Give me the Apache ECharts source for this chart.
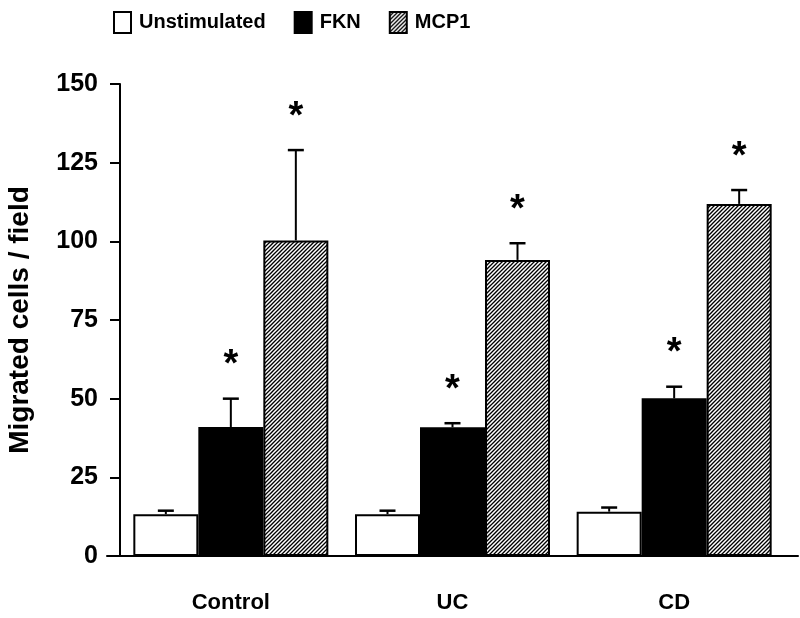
<!DOCTYPE html>
<html>
<head>
<meta charset="utf-8">
<script src="https://cdn.jsdelivr.net/npm/echarts@6/dist/echarts.min.js"></script>
<style>
  html, body { margin: 0; padding: 0; background: #fff; }
  #chart { width: 800px; height: 618px; }
</style>
</head>
<body>
<div id="chart"></div>
<script>
// data
const categories = ["Control", "UC", "CD"];
const seriesNames = ["Unstimulated", "FKN", "MCP1"];
const unstimulated = [13.3, 13.3, 14.1];
const fkn = [41.0, 40.9, 50.1];
const mcp1 = [100.3, 94.1, 111.9];
const unstimulatedErr = [14.4, 14.4, 15.4];   // top of error bar
const fknErr = [50.0, 42.2, 53.8];
const mcp1Err = [129.0, 99.4, 116.3];
const unstimulatedSig = [false, false, false];
const fknSig = [true, true, true];
const mcp1Sig = [true, true, true];
const yTicks = [0, 25, 50, 75, 100, 125, 150];

const BAR_W = 65;
const boldFont = "'Liberation Sans', Arial, sans-serif";

// diagonal hatching "////"
function makeHatch() {
  const s = 8;
  const c = document.createElement("canvas");
  c.width = s; c.height = s;
  const ctx = c.getContext("2d");
  ctx.fillStyle = "#fff";
  ctx.fillRect(0, 0, s, s);
  ctx.strokeStyle = "#000";
  ctx.lineWidth = 1.3;
  for (let k = -2; k <= 4; k++) {
    const d = k * 4;
    ctx.beginPath();
    ctx.moveTo(d - 2, s + 2);
    ctx.lineTo(d + s + 2, -2);
    ctx.stroke();
  }
  return c;
}
const hatch = makeHatch();

const values = [unstimulated, fkn, mcp1];
const errs = [unstimulatedErr, fknErr, mcp1Err];
const sigs = [unstimulatedSig, fknSig, mcp1Sig];
const fills = ["#fff", "#000", { image: hatch, repeat: "repeat" }];

const barSeries = seriesNames.map((name, i) => ({
  name: name,
  type: "bar",
  barWidth: BAR_W,
  barGap: "0%",
  data: values[i],
  itemStyle: { color: fills[i], borderColor: "#000", borderWidth: 2 },
  z: 2,
}));

// error bars (upper only) and significance stars
const errSeries = seriesNames.map((name, i) => ({
  name: name + " err",
  type: "custom",
  z: 3,
  data: categories.map((c, j) => [j, values[i][j], errs[i][j], sigs[i][j] ? 1 : 0]),
  renderItem: function (params, api) {
    const base = api.coord([api.value(0), api.value(1)]);
    const top = api.coord([api.value(0), api.value(2)]);
    const x = base[0] + (i - 1) * BAR_W;
    const children = [
      { type: "line", shape: { x1: x, y1: base[1], x2: x, y2: top[1] }, style: { stroke: "#000", lineWidth: 2 } },
      { type: "line", shape: { x1: x - 8, y1: top[1], x2: x + 8, y2: top[1] }, style: { stroke: "#000", lineWidth: 2.5 } },
    ];
    if (api.value(3)) {
      children.push({
        type: "text",
        style: {
          text: "*", x: x, y: top[1] - 33,
          align: "center", verticalAlign: "middle",
          font: "bold 38px " + boldFont, fill: "#000",
        },
      });
    }
    return { type: "group", children: children };
  },
}));

const option = {
  animation: false,
  backgroundColor: "#fff",
  legend: {
    data: seriesNames,
    icon: "rect",
    left: 108,
    top: 6,
    itemWidth: 17,
    itemHeight: 21,
    itemGap: 28,
    itemStyle: { borderColor: "#000", borderWidth: 2 },
    textStyle: { fontFamily: boldFont, fontWeight: "bold", fontSize: 20, color: "#000", padding: [0, 0, 0, 3] },
    selectedMode: false,
  },
  grid: [
    { left: 120, right: 15, top: 84, bottom: 62, outerBoundsMode: "none" },
    { left: 107, right: 2, top: 84, bottom: 62, outerBoundsMode: "none" },
  ],
  xAxis: [
    {
      type: "category",
      data: categories,
      gridIndex: 0,
      axisLine: { show: false },
      axisTick: { show: false },
      axisLabel: { margin: 36, fontFamily: boldFont, fontWeight: "bold", fontSize: 22, color: "#000" },
    },
    {
      type: "value",
      gridIndex: 1,
      min: 0,
      max: 1,
      axisLine: { show: true, lineStyle: { color: "#000", width: 2 } },
      axisTick: { show: false },
      axisLabel: { show: false },
      splitLine: { show: false },
    },
  ],
  yAxis: [
    {
      type: "value",
      gridIndex: 0,
      min: yTicks[0],
      max: yTicks[yTicks.length - 1],
      interval: 25,
      name: "Migrated cells / field",
      nameLocation: "middle",
      nameGap: 86,
      nameTextStyle: { fontFamily: boldFont, fontWeight: "bold", fontSize: 28, color: "#000" },
      axisLine: { show: true, lineStyle: { color: "#000", width: 2 } },
      axisTick: { show: true, inside: false, length: 10, lineStyle: { color: "#000", width: 2 } },
      axisLabel: { margin: 22, fontFamily: boldFont, fontWeight: "bold", fontSize: 25, color: "#000" },
      splitLine: { show: false },
    },
    { type: "value", gridIndex: 1, show: false, min: 0, max: 1 },
  ],
  series: barSeries.concat(errSeries),
};

const chart = echarts.init(document.getElementById("chart"), null, { renderer: "canvas" });
chart.setOption(option);
</script>
</body>
</html>
